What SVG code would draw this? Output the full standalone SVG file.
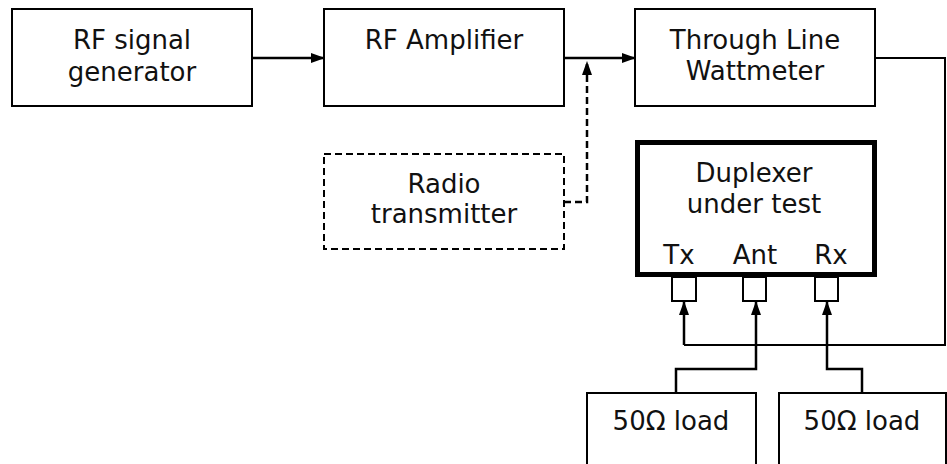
<svg xmlns="http://www.w3.org/2000/svg" width="947" height="464" viewBox="0 0 947 464">
<defs>
<style>
.box{fill:#fff;stroke:#000;stroke-width:2}
.dbox{fill:#fff;stroke:#000;stroke-width:2;stroke-dasharray:7,4}
.thick{fill:#fff;stroke:#000;stroke-width:5}
.port{fill:#fff;stroke:#000;stroke-width:2}
.t{font-family:"DejaVu Sans",Verdana,sans-serif;font-size:26px;fill:#111;text-anchor:middle}
.c{fill:none;stroke:#000;stroke-width:2.5}
.w{fill:none;stroke:#000;stroke-width:2}
.dc{fill:none;stroke:#000;stroke-width:2.5;stroke-dasharray:7,4}
</style>
<marker id="ah" viewBox="0 0 14 10" refX="13" refY="5" markerWidth="14" markerHeight="10" markerUnits="userSpaceOnUse" orient="auto">
<path d="M0,0 L14,5 L0,10 Z" fill="#000"/>
</marker>
</defs>
<g id="connectors">
<path class="c" d="M252,58 H324" marker-end="url(#ah)"/>
<path class="c" d="M564,58 H635" marker-end="url(#ah)"/>
<path class="dc" d="M564,202 H587 V62" marker-end="url(#ah)"/>
<path class="w" d="M875,58 H945 V345 H684"/>
<path class="c" d="M684,345 V302" marker-end="url(#ah)"/>
<path class="c" d="M676,393 V369 H756 V302" marker-end="url(#ah)"/>
<path class="c" d="M862,393 V369 H827 V302" marker-end="url(#ah)"/>
</g>
<g id="rf-gen">
<rect class="box" x="12" y="9" width="240" height="97"/>
<text class="t" x="132" y="49">RF signal</text>
<text class="t" x="132" y="81">generator</text>
</g>
<g id="rf-amp">
<rect class="box" x="324" y="9" width="240" height="97"/>
<text class="t" x="444" y="49">RF Amplifier</text>
</g>
<g id="wattmeter">
<rect class="box" x="635" y="9" width="240" height="97"/>
<text class="t" x="755" y="49">Through Line</text>
<text class="t" x="755" y="80">Wattmeter</text>
</g>
<g id="radio-tx">
<rect class="dbox" x="324" y="154" width="240" height="95"/>
<text class="t" x="444" y="193">Radio</text>
<text class="t" x="444" y="223">transmitter</text>
</g>
<g id="duplexer">
<rect class="thick" x="637.5" y="142.5" width="237" height="132"/>
<text class="t" x="754" y="182">Duplexer</text>
<text class="t" x="754" y="213">under test</text>
<text class="t" x="679" y="264">Tx</text>
<text class="t" x="755" y="264">Ant</text>
<text class="t" x="831" y="264">Rx</text>
<rect class="port" x="672" y="277" width="24" height="24"/>
<rect class="port" x="743" y="277" width="23" height="24"/>
<rect class="port" x="815" y="277" width="23" height="24"/>
</g>
<g id="load1">
<rect class="box" x="587" y="393" width="169" height="80"/>
<text class="t" x="671" y="430">50Ω load</text>
</g>
<g id="load2">
<rect class="box" x="779" y="393" width="167" height="80"/>
<text class="t" x="862" y="430">50Ω load</text>
</g>
</svg>
